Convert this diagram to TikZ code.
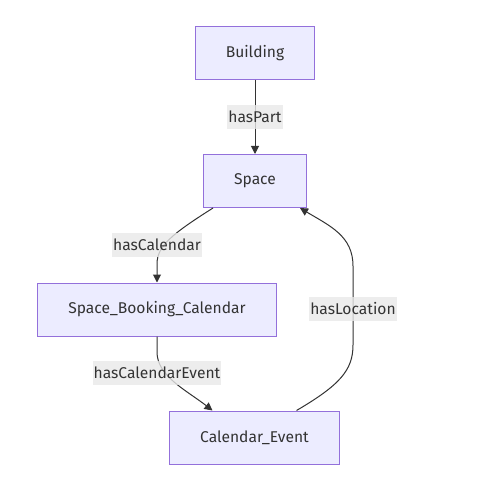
\documentclass[tikz,border=0pt]{standalone}
\usepackage{fontspec}
\setmainfont{Fira Sans}
\usetikzlibrary{arrows.meta, positioning, calc}
\definecolor{mfill}{HTML}{ECECFF}
\definecolor{mline}{HTML}{9370DB}
\definecolor{mtext}{HTML}{333333}
\definecolor{mlab}{HTML}{E8E8E8}

\begin{document}
\begin{tikzpicture}[x=0.75pt, y=-0.75pt,
			entity/.style={draw=mline, fill=mfill, line width=0.75pt, minimum height=39.75pt,
				inner xsep=22.8pt, text=mtext, font=\fontsize{11.7}{14}\selectfont},
			rel/.style={fill=mlab, fill opacity=0.8, text opacity=1, inner xsep=0.75pt, inner ysep=0pt,
				minimum height=18pt, text=mtext, font=\fontsize{11.7}{14}\selectfont},
			link/.style={draw=mtext, line width=0.75pt, -{Triangle[length=6pt, width=6pt]}},
			]
			\useasboundingbox (0,0) rectangle (477,499);
			\node[entity] (b) at (255,53) {Building};
			\node[entity] (s) at (255,181) {Space};
			\node[entity] (sbc) at (157,309.5) {Space\_Booking\_Calendar};
			\node[entity] (ce) at (254.5,437.5) {Calendar\_Event};
			\draw[link] (b) -- (s);
			\draw[link] ($(s.south)+(-42,0)$) .. controls (172,234) and (157,246) .. (157,264) -- (sbc.north);
			\draw[link] (sbc.south) -- (157,352) .. controls (157,376) and (186,390) .. ($(ce.north)+(-42,0)$);
			\draw[link] ($(ce.north)+(42,0)$) .. controls (340,385) and (353,370) .. (353,345)
				-- (353,266) .. controls (353,236) and (330,226) .. ($(s.south)+(45,0)$);
			\node[rel] (hp) at (255,117) {hasPart};
			\node[rel] (hc) at (157,245) {hasCalendar};
			\node[rel] (hce) at (157,373) {hasCalendarEvent};
			\node[rel] (hl) at (353,309) {hasLocation};
	\end{tikzpicture}
\end{document}
